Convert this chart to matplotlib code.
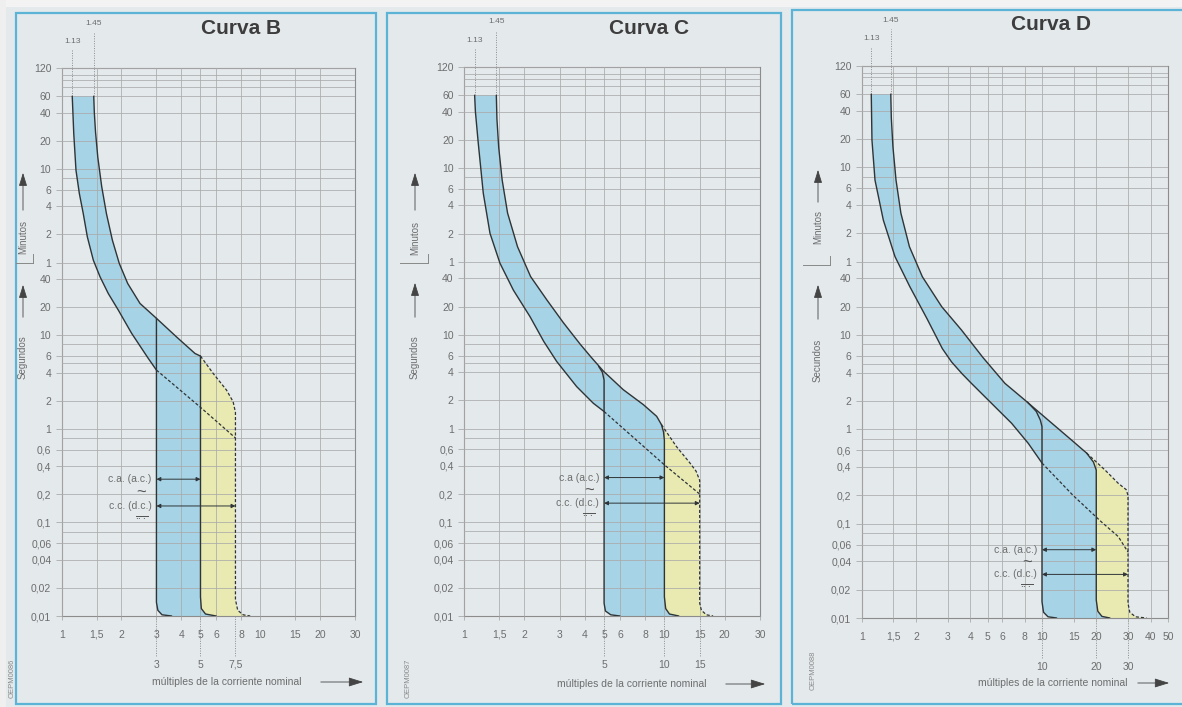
import matplotlib.pyplot as plt
import matplotlib.transforms as mtransforms
from matplotlib.patches import Rectangle, FancyArrowPatch
from matplotlib.ticker import FixedLocator, NullLocator

plt.rcParams['font.family'] = ['Liberation Sans', 'DejaVu Sans']

W, H = 1182, 707

# --- shared scales -------------------------------------------------------
# time axis in seconds; upper part is labelled in minutes
y_ticks = [0.01, 0.02, 0.04, 0.06, 0.1, 0.2, 0.4, 0.6, 1, 2, 4, 6, 10, 20, 40,
           60, 120, 240, 360, 600, 1200, 2400, 3600, 7200]
y_labels = ["0,01", "0,02", "0,04", "0,06", "0,1", "0,2", "0,4", "0,6", "1", "2", "4", "6",
            "10", "20", "40", "1", "2", "4", "6", "10", "20", "40", "60", "120"]
y_extra = [0.08, 0.8, 5, 8, 480, 4500, 5400, 6000]

x_ticks = [1, 1.5, 2, 3, 4, 5, 6, 8, 10, 15, 20, 30]
x_labels = ["1", "1,5", "2", "3", "4", "5", "6", "8", "10", "15", "20", "30"]
x_ticks_d = x_ticks + [40, 50]
x_labels_d = x_labels + ["40", "50"]

start_x = [1.13, 1.45]
start_labels = ["1.13", "1.45"]
t_start = 3600

# --- Curva B -------------------------------------------------------------
B_lower_x = [1.13, 1.15, 1.18, 1.227, 1.284, 1.346, 1.443, 1.56, 1.716, 1.928, 2.25, 2.73, 3.0]
B_lower_t = [3600, 1436, 582, 328, 200, 113, 63.6, 42.2, 28, 18.6, 10.5, 5.66, 4.25]
B_upper_x = [1.45, 1.46, 1.48, 1.52, 1.59, 1.68, 1.8, 1.95, 2.15, 2.48, 3.0, 3.79, 4.69, 5.0]
B_upper_t = [3600, 2400, 1500, 800, 390, 200, 104, 58.6, 35.8, 21.9, 15.2, 9.6, 6.4, 6.0]
B_acl_x = [3.0, 3.0, 3.05, 3.2, 3.58]
B_acl_t = [15.2, 0.014, 0.0115, 0.0103, 0.01]
B_acr_x = [5.0, 5.0, 5.05, 5.3, 6.0]
B_acr_t = [6.0, 0.016, 0.012, 0.0105, 0.01]
B_dc_x = [5.0, 5.8, 6.76, 7.3, 7.5, 7.5, 7.7, 8.2, 8.9]
B_dc_t = [6.0, 3.9, 2.6, 1.95, 1.5, 0.015, 0.0115, 0.0103, 0.01]
B_diag_x = [3.0, 5.0, 7.5]
B_diag_t = [4.25, 1.7, 0.8]
B_marks = [3, 5, 7.5]
B_mark_labels = ["3", "5", "7,5"]
B_ac_t, B_dc_t_arrow = 0.29, 0.15

# --- Curva C -------------------------------------------------------------
C_lower_x = [1.13, 1.14, 1.178, 1.248, 1.348, 1.512, 1.763, 2.136, 2.5, 2.9, 3.65, 4.42, 5.0]
C_lower_t = [3600, 2400, 1109, 324, 121, 58, 30, 15.6, 8.5, 5.2, 2.8, 1.86, 1.52]
C_upper_x = [1.45, 1.46, 1.49, 1.55, 1.65, 1.85, 2.15, 2.59, 3.13, 3.79, 4.3, 4.96, 6.23, 7.85, 9.15, 9.67]
C_upper_t = [3600, 2000, 1000, 450, 199, 87, 41.8, 23.6, 13.5, 8.0, 5.8, 4.1, 2.6, 1.8, 1.35, 1.1]
C_acl_x = [4.7, 4.9, 5.0, 5.0, 5.08, 5.4, 6.0]
C_acl_t = [4.6, 4.0, 3.3, 0.0137, 0.0113, 0.0103, 0.01]
C_acr_x = [9.67, 9.9, 10.0, 10.0, 10.15, 10.6, 11.8]
C_acr_t = [1.1, 0.92, 0.75, 0.016, 0.012, 0.0105, 0.01]
C_dc_x = [9.67, 11.5, 13.4, 14.4, 15.0, 15.0, 15.3, 16.2, 17.5]
C_dc_t = [1.1, 0.64, 0.43, 0.35, 0.28, 0.0137, 0.0115, 0.0103, 0.01]
C_diag_x = [5.0, 10.0, 15.0]
C_diag_t = [1.52, 0.41, 0.2]
C_marks = [5, 10, 15]
C_mark_labels = ["5", "10", "15"]
C_ac_t, C_dc_t_arrow = 0.3, 0.16

# --- Curva D -------------------------------------------------------------
D_lower_x = [1.13, 1.14, 1.185, 1.318, 1.53, 1.85, 2.3, 2.8, 3.15, 3.6, 4.06, 5.25, 6.79, 8.4, 10.0]
D_lower_t = [3600, 1172, 441, 166, 68, 32.6, 15, 7.2, 5.2, 3.9, 3.08, 1.89, 1.16, 0.71, 0.44]
D_upper_x = [1.45, 1.46, 1.49, 1.55, 1.65, 1.84, 2.17, 2.78, 3.58, 4.7, 6.23, 8.03, 10.8, 14.6, 17.7]
D_upper_t = [3600, 2000, 1000, 441, 196, 86.6, 41.6, 20, 11.3, 5.8, 3.08, 2.05, 1.26, 0.77, 0.56]
D_acl_x = [8.3, 9.3, 9.8, 10.0, 10.0, 10.2, 10.8, 12.06]
D_acl_t = [1.95, 1.55, 1.25, 1.07, 0.0149, 0.0115, 0.0103, 0.01]
D_acr_x = [17.7, 19.3, 20.0, 20.0, 20.4, 21.5, 23.8]
D_acr_t = [0.56, 0.45, 0.37, 0.0155, 0.0118, 0.0104, 0.01]
D_dc_x = [17.7, 22.4, 26.5, 29.3, 30.0, 30.0, 30.7, 33.0, 38.0]
D_dc_t = [0.56, 0.37, 0.268, 0.23, 0.2, 0.0143, 0.0115, 0.0103, 0.01]
D_diag_x = [10.0, 14.86, 21.3, 26.5, 30.0]
D_diag_t = [0.44, 0.2, 0.105, 0.073, 0.05]
D_marks = [10, 20, 30]
D_mark_labels = ["10", "20", "30"]
D_ac_t, D_dc_t_arrow = 0.053, 0.029

# --- colours ---------------------------------------------------------------
paper = "#e4e9ec"
frame = "#5bb3d5"
ink = "#2f3437"
grey = "#6d6d6d"
grid = "#aaaaaa"
blue = "#a6d3e5"
yellow = "#e8eab2"


def fx(px):
    return px / W


def fy(py):
    return 1 - py / H


def add_axes_px(fig, left, top, right, bottom):
    return fig.add_axes([fx(left), fy(bottom), (right - left) / W, (bottom - top) / H])


def draw_panel(ax, xmax, xt, xl, lower, upper, acl, acr, dc, diag,
               marks, mark_labels, ac_t, dc_t, ac_text):
    ax.set_xscale('log')
    ax.set_yscale('log')
    ax.set_xlim(1, xmax)
    ax.set_ylim(0.01, 7200)
    ax.set_facecolor('none')
    ax.set_xticks(xt, xl)
    ax.set_yticks(y_ticks, y_labels)
    ax.xaxis.set_minor_locator(NullLocator())
    ax.yaxis.set_minor_locator(FixedLocator(y_extra))
    ax.yaxis.set_minor_formatter(plt.NullFormatter())
    ax.tick_params(which='major', labelsize=7.5, labelcolor=grey, color=grid,
                   length=4, width=0.6)
    ax.tick_params(axis='x', pad=7, length=3)
    ax.tick_params(which='minor', length=0)
    ax.grid(True, which='both', color=grid, lw=0.55)
    ax.set_axisbelow(False)
    for s in ax.spines.values():
        s.set_color("#8c8c8c")
        s.set_linewidth(0.8)

    # blue band: tripping zone for a.c.
    left_part = [p for p in zip(*acl) if p[1] <= lower[1][-1]]
    bx = list(upper[0]) + list(acr[0][1:]) + [p[0] for p in left_part[::-1]] + list(lower[0][::-1])
    by = list(upper[1]) + list(acr[1][1:]) + [p[1] for p in left_part[::-1]] + list(lower[1][::-1])
    ax.fill(bx, by, color=blue, lw=0, zorder=1)
    # yellow band: extension for d.c.
    yx = list(dc[0]) + list(acr[0][::-1])
    yy = list(dc[1]) + list(acr[1][::-1])
    ax.fill(yx, yy, color=yellow, lw=0, zorder=1)

    for xs, ts in (lower, upper, acl, acr):
        ax.plot(xs, ts, color=ink, lw=1.0, zorder=3, solid_capstyle='round')
    for xs, ts in (dc, diag):
        ax.plot(xs, ts, color=ink, lw=0.9, ls=(0, (2.5, 1.6)), zorder=3)

    trans = mtransforms.blended_transform_factory(ax.transData, ax.transAxes)
    # dotted guides for the conventional currents
    for x, lab, top, ty in zip(start_x, start_labels, [1.033, 1.066], [1.049, 1.082]):
        ax.plot([x, x], [t_start, 7200], color="#8a8a8a", lw=0.7, ls=(0, (1, 1.5)), zorder=2)
        ax.plot([x, x], [1.0, top], color="#8a8a8a", lw=0.7, ls=(0, (1, 1.5)),
                transform=trans, clip_on=False)
        ax.text(x, ty, lab, transform=trans, ha='center', va='center', fontsize=6, color=grey)

    # magnetic trip limits below the current axis
    for m, lab in zip(marks, mark_labels):
        ax.plot([m, m], [0.0, -0.075], color="#8a8a8a", lw=0.7, ls=(0, (1, 1.5)),
                transform=trans, clip_on=False)
        ax.text(m, -0.089, lab, transform=trans, ha='center', va='center', fontsize=7.5, color=grey)

    x0 = acl[0][3] if acl[0][0] != acl[0][1] else acl[0][0]
    arrow = dict(arrowstyle='<|-|>', color=ink, lw=0.7, mutation_scale=6, shrinkA=0, shrinkB=0)
    ax.annotate('', xy=(acr[0][3] if acr[0][0] != acr[0][1] else acr[0][1], ac_t),
                xytext=(x0, ac_t), arrowprops=arrow, zorder=4)
    ax.annotate('', xy=(dc[0][5] if dc[0][4] == dc[0][5] else dc[0][4], dc_t),
                xytext=(x0, dc_t), arrowprops=arrow, zorder=4)
    ax.annotate(ac_text, xy=(x0, ac_t), xytext=(-5, 0), textcoords='offset pixels',
                ha='right', va='center', fontsize=7.5, color=grey)
    ax.annotate('~', xy=(x0, ac_t), xytext=(-15, -14), textcoords='offset pixels',
                ha='center', va='center', fontsize=12, color="#555555")
    ax.annotate('c.c. (d.c.)', xy=(x0, dc_t), xytext=(-5, 0), textcoords='offset pixels',
                ha='right', va='center', fontsize=7.5, color=grey)
    ax.annotate(r'$\overline{\cdot\!\cdot\!\cdot}$', xy=(x0, dc_t), xytext=(-15, -12),
                textcoords='offset pixels', ha='center', va='center', fontsize=6, color="#555555")


def side_labels(fig, x, top_txt, min_c, min_arrow, sep, sec_txt, sec_arrow, sec_c):
    fig.text(fx(x), fy(min_c), top_txt, rotation=90, ha='center', va='center', fontsize=7, color=grey)
    fig.text(fx(x), fy(sec_c), sec_txt, rotation=90, ha='center', va='center', fontsize=7, color=grey)
    for (y0, y1) in (min_arrow, sec_arrow):
        fig.add_artist(FancyArrowPatch((fx(x), fy(y0)), (fx(x), fy(y1)), transform=fig.transFigure,
                                       arrowstyle='-|>,head_length=0.9,head_width=0.28',
                                       mutation_scale=9, color="#444444", lw=0.6))
    fig.add_artist(plt.Line2D([fx(sep[0]), fx(sep[1])], [fy(sep[2]), fy(sep[2])],
                              transform=fig.transFigure, color="#888888", lw=0.7))
    fig.add_artist(plt.Line2D([fx(sep[1]), fx(sep[1])], [fy(sep[2]), fy(sep[2] - 9)],
                              transform=fig.transFigure, color="#888888", lw=0.7))


fig = plt.figure(figsize=(W / 100, H / 100), dpi=100, facecolor=paper)

# page edges and panel frames
fig.add_artist(Rectangle((0, fy(7)), 1, 7 / H, transform=fig.transFigure, color="#f3f3f3", lw=0))
fig.add_artist(Rectangle((0, 0), fx(6), 1, transform=fig.transFigure, color="#efefef", lw=0))
for l, t, r, b in [(16, 13, 376, 704), (387, 13, 781, 704), (792, 10, 1195, 704)]:
    fig.add_artist(Rectangle((fx(l), fy(b)), (r - l) / W, (b - t) / H, transform=fig.transFigure,
                             fill=False, edgecolor=frame, lw=1.6))

axB = add_axes_px(fig, 61.7, 68, 355, 616)
draw_panel(axB, 30, x_ticks, x_labels, (B_lower_x, B_lower_t), (B_upper_x, B_upper_t),
           (B_acl_x, B_acl_t), (B_acr_x, B_acr_t), (B_dc_x, B_dc_t), (B_diag_x, B_diag_t),
           B_marks, B_mark_labels, B_ac_t, B_dc_t_arrow, "c.a. (a.c.)")

axC = add_axes_px(fig, 464, 67, 760, 616)
draw_panel(axC, 30, x_ticks, x_labels, (C_lower_x, C_lower_t), (C_upper_x, C_upper_t),
           (C_acl_x, C_acl_t), (C_acr_x, C_acr_t), (C_dc_x, C_dc_t), (C_diag_x, C_diag_t),
           C_marks, C_mark_labels, C_ac_t, C_dc_t_arrow, "c.a (a.c.)")

axD = add_axes_px(fig, 861.7, 65.7, 1168, 618)
draw_panel(axD, 50, x_ticks_d, x_labels_d, (D_lower_x, D_lower_t), (D_upper_x, D_upper_t),
           (D_acl_x, D_acl_t), (D_acr_x, D_acr_t), (D_dc_x, D_dc_t), (D_diag_x, D_diag_t),
           D_marks, D_mark_labels, D_ac_t, D_dc_t_arrow, "c.a. (a.c.)")

# titles
for cx, cy, txt in [(241, 29, "Curva B"), (649, 28, "Curva C"), (1051, 25, "Curva D")]:
    fig.text(fx(cx), fy(cy), txt, ha='center', va='center', fontsize=15, fontweight='bold', color="#3d3d3d")

# current axis caption with arrow
for tx, ty, a0, a1 in [(152, 682, 318, 366), (557, 684, 723, 768), (978, 683, 1135, 1172)]:
    fig.text(fx(tx), fy(ty), "múltiples de la corriente nominal", ha='left', va='center',
             fontsize=7.5, color=grey)
    fig.add_artist(FancyArrowPatch((fx(a0), fy(ty)), (fx(a1), fy(ty)), transform=fig.transFigure,
                                   arrowstyle='-|>,head_length=0.9,head_width=0.28',
                                   mutation_scale=10, color="#444444", lw=0.6))

side_labels(fig, 23, "Minutos", 237, (213, 170), (16, 33, 263), "Segundos", (320, 282), 357)
side_labels(fig, 415, "Minutos", 238, (213, 170), (400, 428, 263), "Segundos", (320, 280), 357)
side_labels(fig, 818, "Minutos", 227, (205, 167), (803, 830, 265), "Secundos", (322, 282), 360)

for x, y, code in [(12, 678, "OEPM0086"), (408, 678, "OEPM0087"), (813, 670, "OEPM0088")]:
    fig.text(fx(x), fy(y), code, rotation=90, ha='center', va='center', fontsize=5.5, color="#8a8a8a")

fig.savefig("out.png", dpi=100, facecolor=paper)
